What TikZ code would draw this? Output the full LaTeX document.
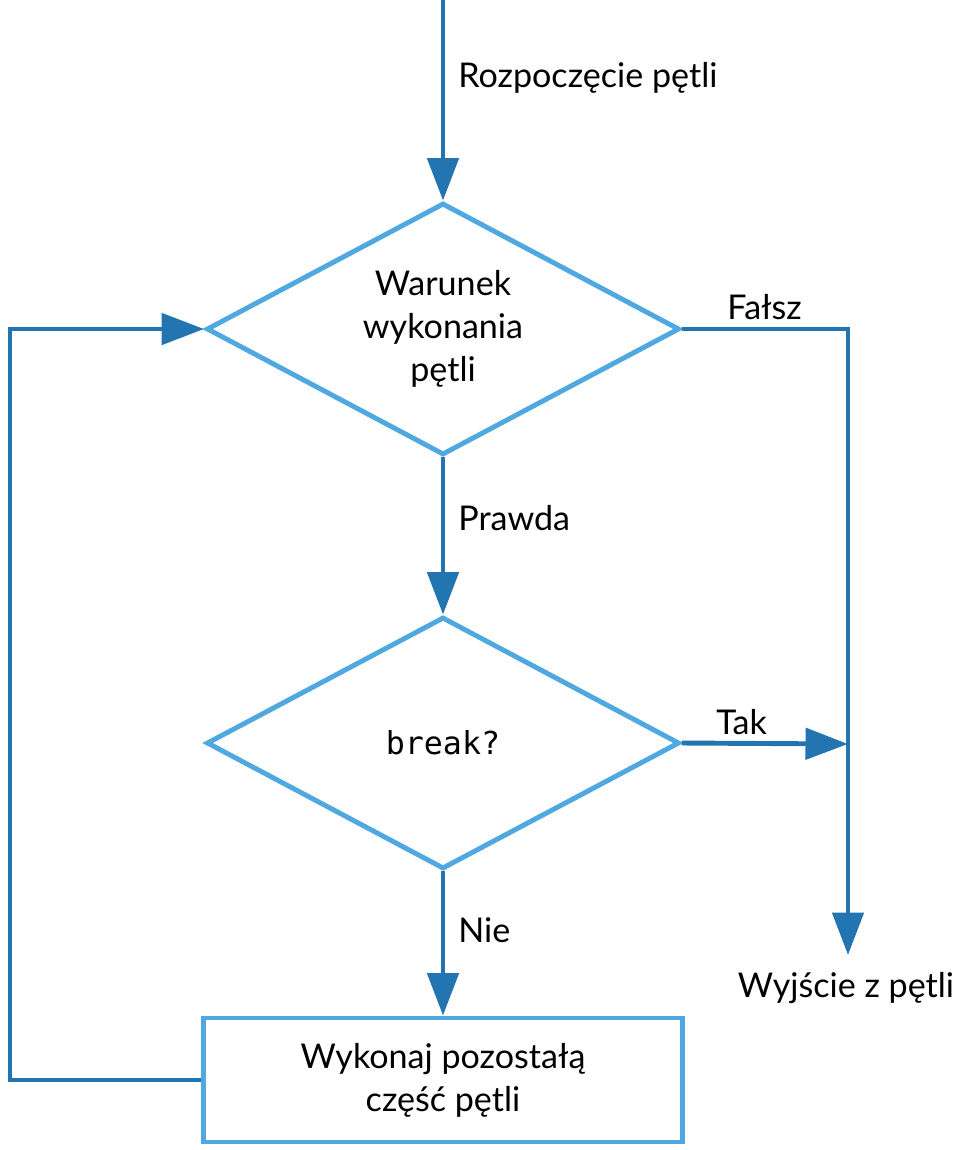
\documentclass[tikz,border=0pt]{standalone}
\usepackage{fontspec}
\setmainfont{Lato}
\newfontfamily\monof{DejaVu Sans Mono}
\usetikzlibrary{shapes.geometric,arrows.meta}
\definecolor{dk}{HTML}{2375B2}
\definecolor{lt}{HTML}{4FA8E0}
\begin{document}
\begin{tikzpicture}[x=0.02cm,y=-0.02cm,
  font=\fontsize{19.4pt}{24.5pt}\selectfont,
  dia/.style={diamond,draw=lt,line width=2.8pt,inner sep=0pt,minimum width=9.46cm,minimum height=5.04cm,shape aspect=1.877,align=center},
  con/.style={draw=dk,line width=2.8pt,-{Triangle[length=0.85cm,width=0.62cm]}},
  lab/.style={anchor=west,inner sep=0pt}]
\useasboundingbox (0,0) rectangle (960,1150);
\coordinate (top) at (443,-5);
\node[dia] (d1) at (443,329) {Warunek\\wykonania\\pętli};
\node[dia] (d2) at (443,743) {{\monof\fontsize{18pt}{22pt}\selectfont break?}};
\node[draw=lt,line width=2.8pt,minimum width=9.6cm,minimum height=2.48cm,align=center] (r) at (443,1080) {Wykonaj pozostałą\\część pętli};
\coordinate (fr) at (848,329);
\coordinate (fe) at (848,955);
\coordinate (tk) at (848,744);
\coordinate (l1) at (10,1080);
\coordinate (l2) at (10,329);
\draw[con] (top) -- (d1.north);
\draw[con] (d1.south) -- (d2.north);
\draw[con] (d2.south) -- (r.north);
\draw[con] (d1.east) -- (fr) -- (fe);
\draw[con] (d2.east) -- (tk);
\draw[con] (r.west) -- (l1) -- (l2) -- (d1.west);
\node[lab] (t1) at (458,78) {Rozpoczęcie pętli};
\node[lab] (t2) at (727,307) {Fałsz};
\node[lab] (t3) at (458,518) {Prawda};
\node[lab] (t4) at (716,722) {Tak};
\node[lab] (t5) at (458,930) {Nie};
\node (t6) at (846,988) {Wyjście z pętli};
\end{tikzpicture}
\end{document}
